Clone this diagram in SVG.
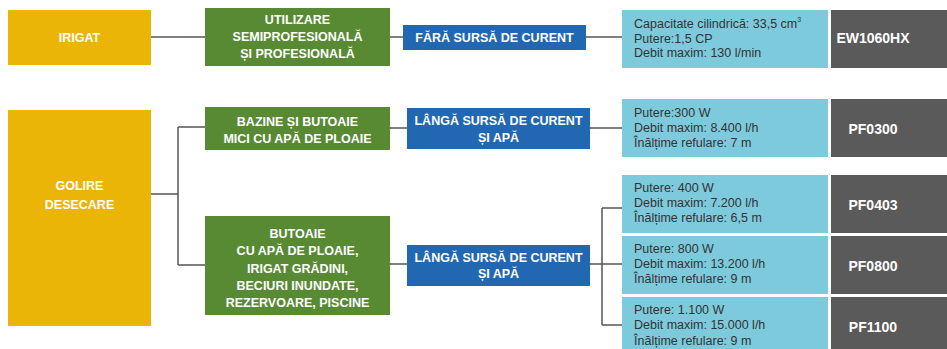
<svg xmlns="http://www.w3.org/2000/svg" width="947" height="349" viewBox="0 0 947 349">
<style>
.y{fill:#EBB508}.g{fill:#588A34}.b{fill:#2267B1}.c{fill:#7DCADD}.d{fill:#5A5A5A}
.tw{font-family:"Liberation Sans",Arial,sans-serif;font-weight:bold;font-size:12.5px;fill:#fff;text-anchor:middle}
.tm{font-family:"Liberation Sans",Arial,sans-serif;font-weight:bold;font-size:14px;fill:#fff;text-anchor:middle}
.tc{font-family:"Liberation Sans",Arial,sans-serif;font-size:12.5px;fill:#333}
.ln{fill:none;stroke:#555;stroke-width:1.5}
</style>
<rect width="947" height="349" fill="#fff"/>
<g id="connectors">
<path class="ln" d="M151 37H205M390 37H403M586 37H622"/>
<path class="ln" d="M151 194H178M178 127V265M178 127H205M178 265H205"/>
<path class="ln" d="M390 128H407M590 128H622"/>
<path class="ln" d="M390 264H407M590 264H622M602 208V325M602 208H622M602 325H622"/>
</g>
<g id="irigat"><rect class="y" x="8" y="10" width="143" height="55"/><text class="tw" x="79.5" y="41.5">IRIGAT</text></g>
<g id="golire"><rect class="y" x="8" y="110" width="143" height="216"/><text class="tw" x="79.5" y="189.5">GOLIRE</text><text class="tw" x="79.5" y="208.5">DESECARE</text></g>
<g id="utilizare"><rect class="g" x="205" y="8" width="185" height="58"/><text class="tw" x="297.5" y="23.5">UTILIZARE</text><text class="tw" x="297.5" y="40.5">SEMIPROFESIONALĂ</text><text class="tw" x="297.5" y="57.5">ȘI PROFESIONALĂ</text></g>
<g id="bazine"><rect class="g" x="205" y="107" width="185" height="43"/><text class="tw" x="297.5" y="125.5">BAZINE ȘI BUTOAIE</text><text class="tw" x="297.5" y="142.5">MICI CU APĂ DE PLOAIE</text></g>
<g id="butoaie"><rect class="g" x="205" y="216" width="185" height="99"/><text class="tw" x="297.5" y="237.5">BUTOAIE</text><text class="tw" x="297.5" y="255">CU APĂ DE PLOAIE,</text><text class="tw" x="297.5" y="272.5">IRIGAT GRĂDINI,</text><text class="tw" x="297.5" y="290">BECIURI INUNDATE,</text><text class="tw" x="297.5" y="307">REZERVOARE, PISCINE</text></g>
<g id="fara"><rect class="b" x="403" y="25" width="183" height="25"/><text class="tw" x="494.5" y="42">FĂRĂ SURSĂ DE CURENT</text></g>
<g id="langa1"><rect class="b" x="407" y="108" width="183" height="41"/><text class="tw" x="498.5" y="125">LÂNGĂ SURSĂ DE CURENT</text><text class="tw" x="498.5" y="141.5">ȘI APĂ</text></g>
<g id="langa2"><rect class="b" x="407" y="245" width="183" height="41"/><text class="tw" x="498.5" y="261.5">LÂNGĂ SURSĂ DE CURENT</text><text class="tw" x="498.5" y="278">ȘI APĂ</text></g>
<g id="spec-ew"><rect class="c" x="622" y="10" width="206" height="58"/><text class="tc" x="634" y="27.5">Capacitate cilindrică: 33,5 cm<tspan font-size="7" dy="-6">3</tspan></text><text class="tc" x="634" y="42.5">Putere:1,5 CP</text><text class="tc" x="634" y="57">Debit maxim: 130 l/min</text></g>
<g id="spec-pf0300"><rect class="c" x="622" y="99" width="206" height="58"/><text class="tc" x="634" y="116.5">Putere:300 W</text><text class="tc" x="634" y="131.5">Debit maxim: 8.400 l/h</text><text class="tc" x="634" y="146.5">Înălțime refulare: 7 m</text></g>
<g id="spec-pf0403"><rect class="c" x="622" y="175" width="206" height="58"/><text class="tc" x="634" y="192">Putere: 400 W</text><text class="tc" x="634" y="207">Debit maxim: 7.200 l/h</text><text class="tc" x="634" y="222">Înălțime refulare: 6,5 m</text></g>
<g id="spec-pf0800"><rect class="c" x="622" y="236" width="206" height="58"/><text class="tc" x="634" y="253">Putere: 800 W</text><text class="tc" x="634" y="268">Debit maxim: 13.200 l/h</text><text class="tc" x="634" y="283">Înălțime refulare: 9 m</text></g>
<g id="spec-pf1100"><rect class="c" x="622" y="297" width="206" height="58"/><text class="tc" x="634" y="314">Putere: 1.100 W</text><text class="tc" x="634" y="329">Debit maxim: 15.000 l/h</text><text class="tc" x="634" y="344.5">Înălțime refulare: 9 m</text></g>
<g id="m-ew1060hx"><rect class="d" x="831" y="10" width="120" height="58"/><text class="tm" x="873" y="43">EW1060HX</text></g>
<g id="m-pf0300"><rect class="d" x="831" y="99" width="120" height="58"/><text class="tm" x="873" y="134">PF0300</text></g>
<g id="m-pf0403"><rect class="d" x="831" y="175" width="120" height="58"/><text class="tm" x="873" y="210">PF0403</text></g>
<g id="m-pf0800"><rect class="d" x="831" y="236" width="120" height="58"/><text class="tm" x="873" y="270.5">PF0800</text></g>
<g id="m-pf1100"><rect class="d" x="831" y="297" width="120" height="58"/><text class="tm" x="873" y="332">PF1100</text></g>
</svg>
